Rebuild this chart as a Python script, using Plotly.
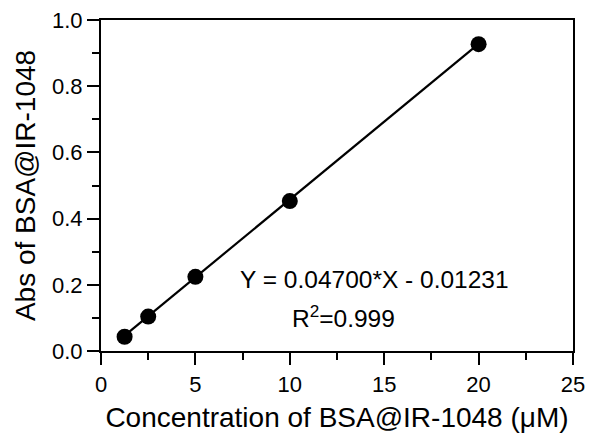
import plotly.graph_objects as go

# Data
conc = [1.25, 2.5, 5, 10, 20]
absorb = [0.043, 0.104, 0.224, 0.453, 0.927]
slope = 0.04700
intercept = -0.01231
x_ticks = [0, 5, 10, 15, 20, 25]
y_ticks = [0.0, 0.2, 0.4, 0.6, 0.8, 1.0]
y_ticklabels = ["0.0", "0.2", "0.4", "0.6", "0.8", "1.0"]

fit_x = [min(conc), max(conc)]
fit_y = [slope * v + intercept for v in fit_x]

FONT = "Liberation Sans, Arial, sans-serif"

fig = go.Figure()
fig.add_trace(go.Scatter(x=fit_x, y=fit_y, mode="lines",
                         line=dict(color="black", width=2.2), showlegend=False))
fig.add_trace(go.Scatter(x=conc, y=absorb, mode="markers",
                         marker=dict(color="black", size=16), showlegend=False))

axis_common = dict(showgrid=False, zeroline=False, showline=True, linecolor="black",
                   linewidth=2.2, mirror=True, ticks="outside", ticklen=12,
                   tickwidth=2.2, tickcolor="black", automargin=False,
                   tickfont=dict(family=FONT, size=22, color="black"))

fig.update_xaxes(range=[0, 25], tickvals=x_ticks, ticktext=[str(v) for v in x_ticks],
                 minor=dict(dtick=2.5, tick0=0, ticklen=7, tickwidth=2.2, tickcolor="black", ticks="outside"),
                 title=dict(text="Concentration of BSA@IR-1048 (μM)",
                            font=dict(family=FONT, size=28, color="black"), standoff=12),
                 **axis_common)
fig.update_yaxes(range=[0, 1], tickvals=y_ticks, ticktext=y_ticklabels,
                 minor=dict(dtick=0.1, tick0=0, ticklen=7, tickwidth=2.2, tickcolor="black", ticks="outside"),
                 title=dict(text="Abs of BSA@IR-1048",
                            font=dict(family=FONT, size=28, color="black"), standoff=8),
                 **axis_common)

fig.add_annotation(x=14.5, y=0.215, xref="x", yref="y", showarrow=False,
                   text="Y = 0.04700*X - 0.01231",
                   font=dict(family=FONT, size=24.5, color="black"))
fig.add_annotation(x=12.85, y=0.105, xref="x", yref="y", showarrow=False,
                   text="R<sup>2</sup>=0.999",
                   font=dict(family=FONT, size=24.5, color="black"))

fig.update_layout(width=589, height=434, margin=dict(l=101, r=16, t=20, b=83),
                  paper_bgcolor="white", plot_bgcolor="white")

fig.write_html("out.html")
